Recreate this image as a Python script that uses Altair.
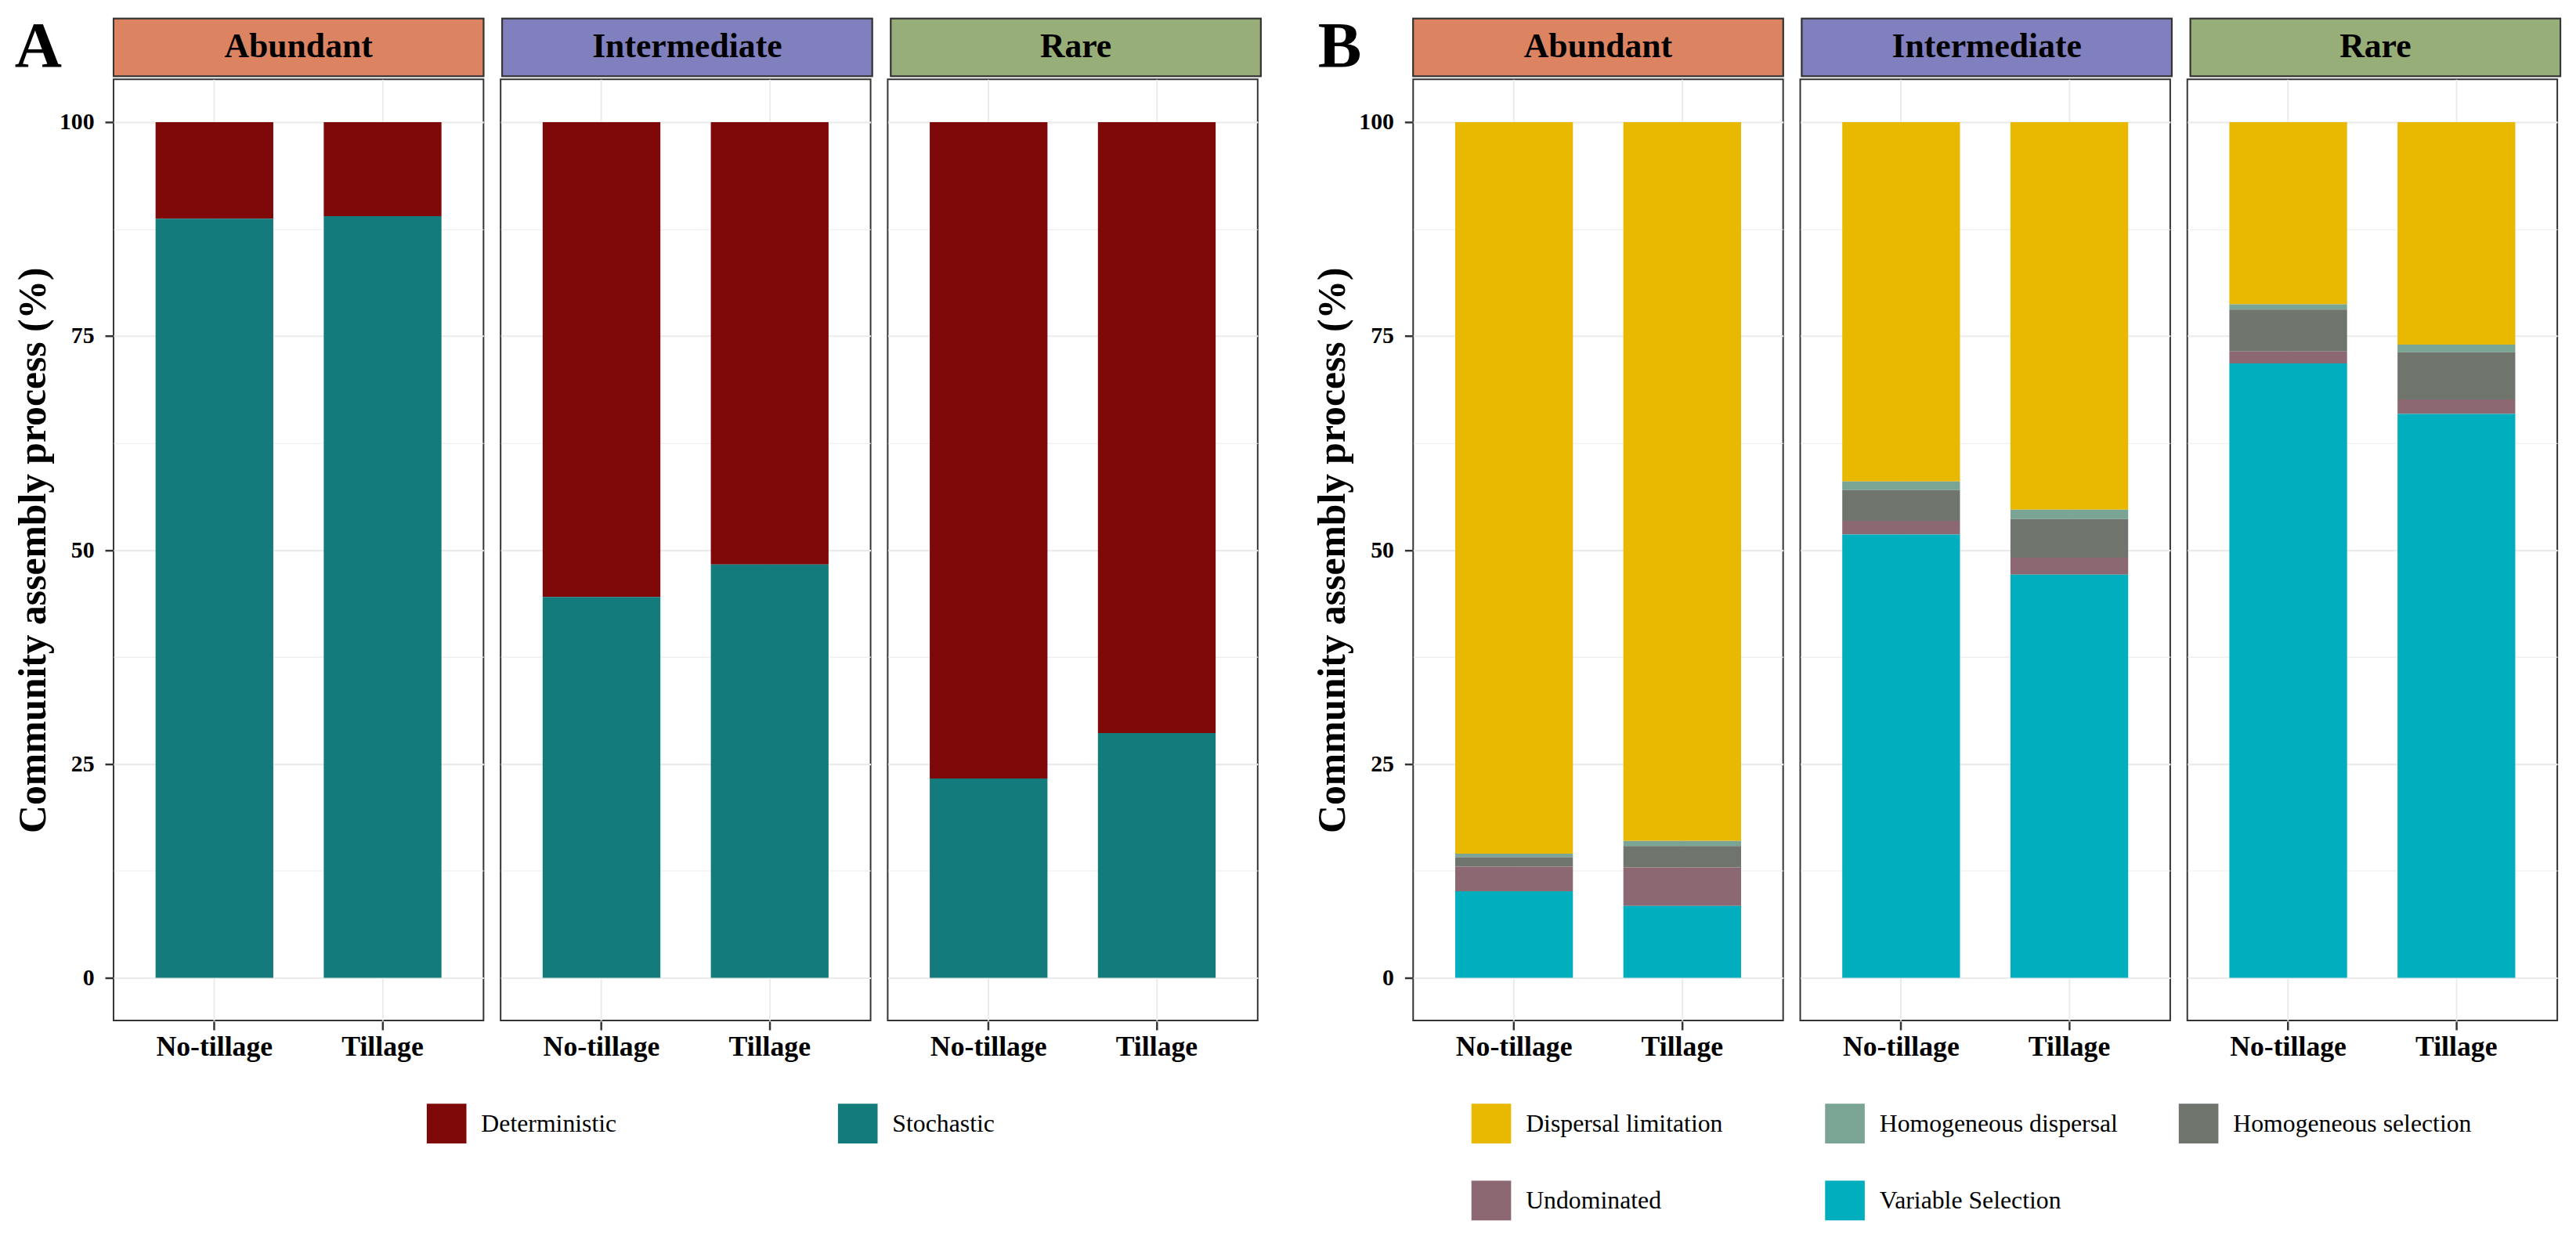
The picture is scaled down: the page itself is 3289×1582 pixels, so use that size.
import altair as alt
import pandas as pd

SERIF = "Liberation Serif"
GRID = "#EBEBEB"
TICK = "#333333"

groups = ["Abundant", "Intermediate", "Rare"]
strip_colors = ["#DC8462", "#8080BF", "#97AE78"]
treatments = ["No-tillage", "Tillage"]

# column order: Abundant NT, Abundant T, Intermediate NT, Intermediate T, Rare NT, Rare T
bar_group = ["Abundant", "Abundant", "Intermediate", "Intermediate", "Rare", "Rare"]
bar_treat = ["No-tillage", "Tillage", "No-tillage", "Tillage", "No-tillage", "Tillage"]

# Panel A
a_processes = ["Deterministic", "Stochastic"]
a_colors = ["#7F0808", "#137B7B"]
a_deterministic = [11.3, 11.0, 55.5, 51.7, 76.7, 71.4]
a_stochastic = [88.7, 89.0, 44.5, 48.3, 23.3, 28.6]

# Panel B
b_processes = ["Dispersal limitation", "Homogeneous dispersal", "Homogeneous selection",
               "Undominated", "Variable Selection"]
b_colors = ["#E8B900", "#7AA595", "#6F756D", "#8C6872", "#00AEBD"]
dispersal_limitation = [85.5, 84.0, 42.0, 45.3, 21.3, 26.0]
homogeneous_dispersal = [0.4, 0.6, 1.0, 1.1, 0.6, 0.9]
homogeneous_selection = [1.1, 2.5, 3.6, 4.5, 4.9, 5.5]
undominated = [2.9, 4.5, 1.6, 2.0, 1.4, 1.7]
variable_selection = [10.1, 8.4, 51.8, 47.1, 71.8, 65.9]

y_major = [0, 25, 50, 75, 100]
y_minor = [12.5, 37.5, 62.5, 87.5]


def make_df(processes, series):
    rows = []
    n = len(processes)
    for pi, (proc, vals) in enumerate(zip(processes, series)):
        for g, t, v in zip(bar_group, bar_treat, vals):
            rows.append({"group": g, "treatment": t, "process": proc,
                         "value": v, "rank": n - 1 - pi})
    return pd.DataFrame(rows)


df_a = make_df(a_processes, [a_deterministic, a_stochastic])
df_b = make_df(b_processes, [dispersal_limitation, homogeneous_dispersal,
                             homogeneous_selection, undominated, variable_selection])
strip_df = pd.DataFrame({"group": groups, "fill": strip_colors})

W = 476
H = 1211
STRIP_H = 74
FACET_SP = 20


def strips(letter):
    df = strip_df.assign(panel=letter)
    y = alt.Y("panel:N", axis=alt.Axis(
        title=letter, titleAngle=0, titleFont=SERIF, titleFontWeight="bold",
        titleFontSize=84, titleColor="black", titleAlign="right",
        titleBaseline="middle", titleX=-65, titleY=36,
        labels=False, ticks=False, domain=False, grid=False))
    rect = alt.Chart().mark_rect(stroke="#333333", strokeWidth=2).encode(
        y=y, fill=alt.Fill("fill:N", scale=None))
    text = alt.Chart().mark_text(font=SERIF, fontWeight="bold", fontSize=44,
                                 color="black", baseline="middle").encode(
        y=y, text="group:N")
    return alt.layer(rect, text, data=df).properties(width=W, height=STRIP_H).facet(
        column=alt.Column("group:N", header=None, sort=groups), spacing=FACET_SP)


def bars(df, processes, colors, legend):
    yvals = sorted(y_major + y_minor)
    chart = alt.Chart(df).mark_bar().encode(
        x=alt.X("treatment:N", sort=treatments, title=None,
                scale=alt.Scale(paddingInner=0.3, paddingOuter=0.25),
                axis=alt.Axis(labelAngle=0, bandPosition=0.5, grid=True,
                              gridColor=GRID, gridWidth=2, ticks=True, tickSize=11,
                              tickWidth=2.5, tickColor=TICK, domain=False,
                              labelFont=SERIF, labelFontWeight="bold",
                              labelFontSize=36, labelColor="black", labelPadding=5)),
        y=alt.Y("value:Q", stack="zero",
                scale=alt.Scale(domain=[-5, 105], nice=False, zero=False),
                axis=alt.Axis(
                    values=yvals, title="Community assembly process (%)",
                    titleFont=SERIF, titleFontWeight="bold", titleFontSize=50,
                    titleColor="black", titlePadding=8,
                    labelExpr="datum.value % 25 === 0 ? format(datum.value, 'd') : ''",
                    labelFont=SERIF, labelFontWeight="bold", labelFontSize=30,
                    labelColor="black", labelPadding=14,
                    tickSize=10, tickWidth=2.5, tickColor=TICK,
                    tickOpacity={"condition": {"test": "datum.value % 25 === 0", "value": 1}, "value": 0},
                    grid=True, gridColor=GRID,
                    gridWidth={"condition": {"test": "datum.value % 25 === 0", "value": 2.2}, "value": 1.1},
                    domain=False)),
        color=alt.Color("process:N", scale=alt.Scale(domain=processes, range=colors),
                        legend=legend),
        order=alt.Order("rank:Q"),
    ).properties(width=W, height=H)
    return chart.facet(column=alt.Column("group:N", header=None, sort=groups),
                       spacing=FACET_SP)


def legend(x, y, columns, col_pad, grid_align):
    return alt.Legend(title=None, orient="none", legendX=x, legendY=y,
                      direction="horizontal", columns=columns, gridAlign=grid_align,
                      symbolType="square", symbolSize=2601, symbolStrokeWidth=0,
                      symbolOpacity=1, labelFont=SERIF, labelFontSize=32,
                      labelColor="black", labelOffset=19, columnPadding=col_pad,
                      rowPadding=48, labelLimit=500)


panel_a = alt.vconcat(strips("A"), bars(df_a, a_processes, a_colors,
                                        legend(403, 1396, 2, 284, "each")), spacing=-5)
panel_b = alt.vconcat(strips("B"), bars(df_b, b_processes, b_colors,
                                        legend(75, 1396, 3, 78, "all")), spacing=-5)

chart = alt.hconcat(panel_a, panel_b, spacing=66).resolve_scale(
    color="independent").properties(
    padding={"left": 10, "top": 4, "right": 10, "bottom": 10},
    background="white",
).configure_view(stroke="#333333", strokeWidth=2)

chart.save("out.html", embed_options={"renderer": "svg", "actions": False})
